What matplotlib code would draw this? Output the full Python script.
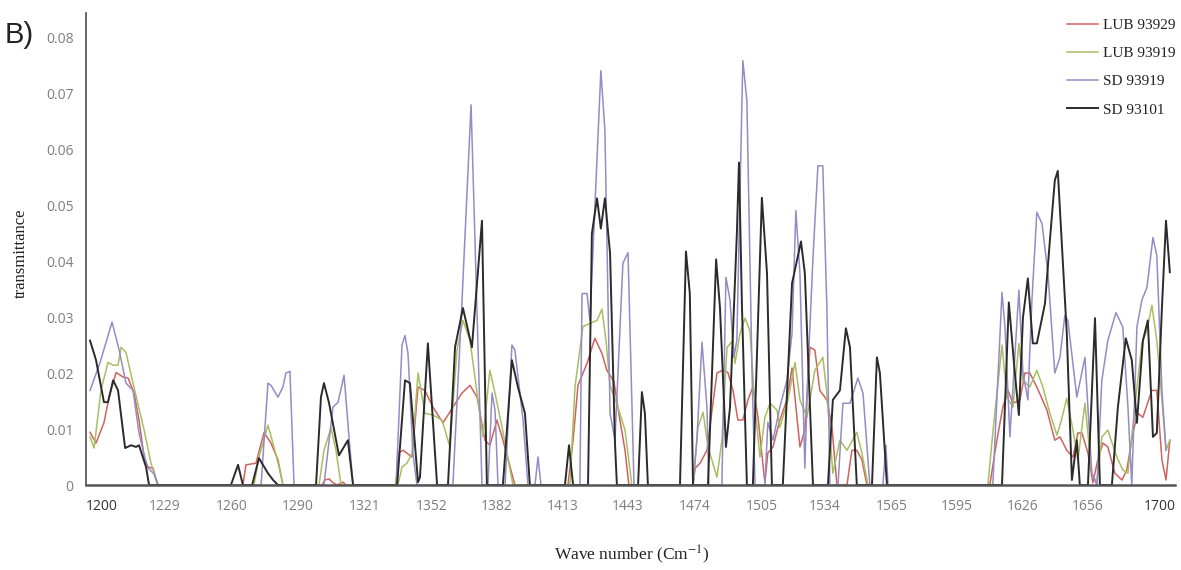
import numpy as np
import matplotlib
matplotlib.use("Agg")
import matplotlib.pyplot as plt

# FTIR transmittance, 1200-1700 cm-1, four genotypes
series_names = ["LUB 93929", "LUB 93919", "SD 93919", "SD 93101"]

lub93929_x = [1200, 1202.8, 1206.5, 1208.9, 1212.2, 1215.4, 1217.8, 1220.6, 1222.9, 1225.3, 1227.1, 1229.5, 1230.9, 1231.8,
              1271.5, 1272.9, 1277.6, 1281.4, 1284.6, 1287.9, 1290.2,
              1308.5, 1309.9, 1311.8, 1313.6, 1315.5, 1318.3, 1319.7,
              1343.1, 1344.0, 1346.4, 1350.6, 1353.4, 1356.6, 1360.4, 1365.1, 1369.7, 1373.9, 1377.7, 1381.0, 1384.7, 1387.0, 1390.3, 1393.1, 1398.7,
              1423.5, 1425.9, 1428.2, 1432.4, 1436.1, 1439.4, 1441.7, 1445.0, 1447.8, 1450.2, 1452.0,
              1482.0, 1483.0, 1485.3, 1488.5, 1490.9, 1493.2, 1496.0, 1498.3, 1500.7, 1503.0, 1505.3, 1507.7, 1510.0, 1512.4, 1515.6, 1517.0, 1519.4,
              1522.6, 1525.9, 1528.3, 1530.6, 1532.0, 1534.3, 1536.7, 1539.0, 1541.3, 1544.6, 1547.0, 1549.3, 1554.0, 1556.3, 1558.6, 1561.0, 1563.3,
              1620.8, 1624.1, 1626.9, 1629.3, 1631.6, 1634.9, 1637.2, 1639.5, 1642.8, 1647.5, 1651.2, 1653.6, 1656.8, 1659.7, 1662.0, 1663.9,
              1666.7, 1669.0, 1671.3, 1673.7, 1676.0, 1679.3, 1682.6, 1684.9, 1687.7, 1690.0, 1692.4, 1696.6, 1698.9, 1701.3, 1703.2, 1705.0]
lub93929_y = [0.0094, 0.0075, 0.0111, 0.0157, 0.0201, 0.0193, 0.0191, 0.0164, 0.0116, 0.0050, 0.0032, 0.0030, 0.0009, 0,
              0, 0.0036, 0.0039, 0.0094, 0.0075, 0.0045, 0,
              0, 0.0009, 0.0011, 0.0004, 0, 0.0005, 0,
              0, 0.0057, 0.0062, 0.0050, 0.0175, 0.0169, 0.0139, 0.0111, 0.0139, 0.0164, 0.0178, 0.0157, 0.0080, 0.0071, 0.0116, 0.0080, 0,
              0, 0.0080, 0.0178, 0.0217, 0.0262, 0.0235, 0.0205, 0.0185, 0.0116, 0.0062, 0,
              0, 0.0030, 0.0039, 0.0062, 0.0134, 0.0200, 0.0205, 0.0201, 0.0169, 0.0116, 0.0116, 0.0152, 0.0175, 0.0121, 0.0004, 0.0057, 0.0068,
              0.0116, 0.0152, 0.0209, 0.0121, 0.0068, 0.0098, 0.0246, 0.0241, 0.0169, 0.0152, 0.0103, 0, 0, 0.0062, 0.0062, 0.0045, 0,
              0, 0.0080, 0.0139, 0.0169, 0.0146, 0.0152, 0.0200, 0.0200, 0.0175, 0.0134, 0.0080, 0.0086, 0.0062, 0.0050, 0.0093, 0.0093,
              0.0057, 0.0004, 0.0045, 0.0075, 0.0068, 0.0021, 0.0009, 0.0027, 0.0093, 0.0128, 0.0121, 0.0169, 0.0169, 0.0045, 0.0009, 0.0080]

lub93919_x = [1200, 1201.9, 1205.1, 1208.4, 1210.8, 1213.1, 1214.5, 1216.8, 1220.1, 1225.3, 1228.5, 1231.8,
              1276.7, 1279.0, 1283.2, 1286.0, 1288.4, 1290.2,
              1307.1, 1309.4, 1312.7, 1315.0, 1317.4,
              1344.0, 1345.9, 1348.2, 1350.6, 1353.4, 1356.6, 1360.4, 1364.6, 1368.3, 1371.6, 1374.4, 1377.7, 1381.0, 1383.8, 1387.0, 1389.4, 1392.7, 1397.8,
              1424.4, 1426.8, 1430.5, 1432.9, 1437.1, 1439.4, 1441.3, 1443.2, 1446.9, 1450.2, 1453.4,
              1482.0, 1484.3, 1486.7, 1489.0, 1493.2, 1495.5, 1497.9, 1500.7, 1501.6, 1504.0, 1506.3, 1508.6, 1511.0, 1513.3, 1515.6, 1518.0,
              1521.2, 1522.6, 1526.4, 1529.7, 1532.0, 1535.3, 1539.0, 1542.7, 1544.6, 1547.4, 1550.7, 1554.0, 1558.6, 1561.0, 1563.8,
              1619.9, 1622.2, 1626.5, 1628.8, 1631.6, 1634.4, 1636.3, 1639.5, 1642.8, 1645.6, 1648.9, 1652.2, 1654.5, 1656.8, 1659.7, 1662.0,
              1665.3, 1668.5, 1670.9, 1673.2, 1676.0, 1680.2, 1683.0, 1685.4, 1688.6, 1691.9, 1694.3, 1696.6, 1698.9, 1701.3, 1703.2, 1705.0]
lub93919_y = [0.0086, 0.0066, 0.0169, 0.0219, 0.0214, 0.0214, 0.0246, 0.0237, 0.0182, 0.0098, 0.0039, 0,
              0, 0.0050, 0.0107, 0.0068, 0.0032, 0,
              0, 0.0062, 0.0102, 0.0062, 0,
              0, 0.0032, 0.0039, 0.0057, 0.0200, 0.0128, 0.0125, 0.0116, 0.0068, 0.0241, 0.0294, 0.0258, 0.0164, 0.0086, 0.0205, 0.0164, 0.0103, 0,
              0, 0.0175, 0.0283, 0.0287, 0.0294, 0.0314, 0.0258, 0.0178, 0.0139, 0.0098, 0,
              0, 0.0103, 0.0130, 0.0068, 0.0014, 0.0080, 0.0246, 0.0258, 0.0217, 0.0271, 0.0298, 0.0276, 0.0139, 0.0050, 0.0121, 0.0146,
              0.0134, 0.0103, 0.0152, 0.0219, 0.0152, 0.0121, 0.0205, 0.0228, 0.0164, 0.0021, 0.0080, 0.0062, 0.0094, 0.0057, 0,
              0, 0.0093, 0.0250, 0.0157, 0.0139, 0.0253, 0.0187, 0.0175, 0.0205, 0.0175, 0.0128, 0.0089, 0.0119, 0.0155, 0.0098, 0.0045,
              0.0146, 0.0021, 0.0004, 0.0086, 0.0098, 0.0050, 0.0027, 0.0021, 0.0139, 0.0253, 0.0276, 0.0321, 0.0258, 0.0152, 0.0062, 0.0080]

sd93919_x = [1200, 1204.7, 1210.3, 1213.6, 1216.8, 1220.1, 1222.9, 1226.7, 1229.9, 1231.8,
             1280.0, 1283.2, 1284.6, 1287.9, 1290.2, 1291.6, 1293.5, 1295.4,
             1309.4, 1313.6, 1316.0, 1318.8, 1321.1, 1323.0,
             1343.1, 1345.9, 1347.3, 1348.7, 1351.0, 1352.9, 1369.7, 1373.9, 1378.2, 1381.0, 1383.3, 1386.1, 1388.0, 1389.4, 1390.8, 1394.1,
             1397.3, 1398.7, 1402.5, 1404.8, 1408.1, 1409.5, 1410.9,
             1429.1, 1430.1, 1432.4, 1433.8, 1438.9, 1440.8, 1443.2, 1445.5, 1449.2, 1451.6, 1454.4,
             1482.0, 1483.8, 1486.2, 1488.5, 1489.4, 1495.5, 1497.4, 1499.3, 1501.1, 1502.5, 1505.3, 1507.2, 1509.6, 1511.0, 1515.6, 1517.0,
             1519.4, 1522.6, 1525.9, 1528.3, 1530.1, 1532.0, 1534.3, 1535.7, 1538.1, 1540.4, 1542.7, 1544.6, 1546.0, 1549.8, 1552.1, 1555.4,
             1559.1, 1561.5, 1564.7, 1570.8, 1572.2, 1573.2,
             1622.2, 1626.5, 1627.9, 1630.2, 1632.5, 1634.4, 1636.3, 1638.6, 1640.5, 1642.8, 1645.2, 1648.0, 1651.2, 1653.6, 1655.9, 1657.3,
             1661.5, 1665.3, 1668.5, 1670.9, 1673.2, 1676.0, 1679.8, 1683.0, 1685.4, 1687.2, 1689.6, 1691.9, 1694.3, 1697.1, 1698.9, 1701.3, 1703.2]
sd93919_y = [0.0169, 0.0219, 0.0291, 0.0241, 0.0182, 0.0169, 0.0093, 0.0032, 0.0020, 0,
             0, 0.0182, 0.0178, 0.0157, 0.0175, 0.0200, 0.0203, 0,
             0, 0.0139, 0.0148, 0.0196, 0.0086, 0,
             0, 0.0250, 0.0267, 0.0235, 0.0057, 0, 0, 0.0324, 0.0679, 0.0307, 0, 0, 0.0164, 0.0134, 0, 0,
             0.0250, 0.0241, 0.0116, 0, 0, 0.0050, 0,
             0, 0.0342, 0.0342, 0.0294, 0.0740, 0.0633, 0.0128, 0.0080, 0.0396, 0.0415, 0,
             0, 0.0080, 0.0255, 0.0139, 0, 0, 0.0371, 0.0330, 0.0228, 0.0258, 0.0758, 0.0686, 0.0200, 0, 0, 0.0112,
             0.0080, 0.0139, 0.0187, 0.0271, 0.0490, 0.0378, 0.0030, 0.0200, 0.0406, 0.0570, 0.0570, 0.0317, 0, 0, 0.0146, 0.0146,
             0.0191, 0.0164, 0, 0, 0.0071, 0,
             0, 0.0344, 0.0282, 0.0086, 0.0228, 0.0348, 0.0200, 0.0152, 0.0330, 0.0487, 0.0467, 0.0378, 0.0200, 0.0228, 0.0303, 0.0294,
             0.0157, 0.0228, 0.0021, 0, 0.0187, 0.0258, 0.0308, 0.0282, 0.0139, 0, 0.0282, 0.0330, 0.0353, 0.0442, 0.0410, 0.0169, 0.0062]

sd93101_x = [1200, 1202.8, 1206.5, 1208.4, 1210.8, 1213.1, 1216.4, 1219.2, 1221.5, 1222.9, 1226.2, 1227.6,
             1265.9, 1269.2, 1271.5, 1275.8, 1279.0, 1283.2, 1285.6, 1287.9,
             1305.7, 1308.0, 1309.4, 1311.8, 1316.4, 1320.6, 1323.0,
             1343.6, 1347.3, 1349.6, 1353.4, 1354.3, 1358.0, 1362.3, 1367.4, 1370.7, 1374.4, 1378.6, 1383.3, 1385.6, 1393.1, 1397.3, 1400.1, 1403.4, 1405.7,
             1422.1, 1424.0, 1425.9, 1432.9, 1434.7, 1437.1, 1438.9, 1440.8, 1443.2, 1445.5, 1446.4, 1456.3, 1458.1, 1459.5, 1460.9,
             1475.9, 1478.7, 1480.5, 1482.0, 1489.0, 1492.8, 1494.6, 1497.4, 1499.3, 1502.5, 1503.5, 1504.9, 1507.2, 1510.0, 1514.2, 1516.6,
             1518.9, 1524.0, 1528.3, 1532.5, 1534.3, 1538.1, 1545.1, 1547.4, 1550.7, 1553.5, 1555.4, 1558.6, 1565.7, 1568.0, 1569.4, 1572.7,
             1626.5, 1629.7, 1632.5, 1634.4, 1636.3, 1638.6, 1640.9, 1642.8, 1646.6, 1648.9, 1651.2, 1652.6, 1656.8, 1659.2, 1661.5, 1662.9,
             1666.7, 1670.0, 1672.3, 1677.9, 1680.7, 1684.4, 1687.2, 1689.6, 1692.4, 1694.7, 1697.1, 1698.9, 1701.3, 1703.2, 1705.0]
sd93101_y = [0.0258, 0.0223, 0.0148, 0.0148, 0.0187, 0.0169, 0.0066, 0.0071, 0.0068, 0.0071, 0.0032, 0,
             0, 0.0036, 0, 0, 0.0048, 0.0021, 0.0009, 0,
             0, 0.0157, 0.0182, 0.0146, 0.0053, 0.0080, 0,
             0, 0.0187, 0.0182, 0.0005, 0.0014, 0.0253, 0, 0, 0.0246, 0.0316, 0.0246, 0.0472, 0, 0, 0.0223, 0.0175, 0.0128, 0,
             0, 0.0071, 0, 0, 0.0449, 0.0512, 0.0458, 0.0512, 0.0414, 0.0075, 0, 0, 0.0166, 0.0128, 0,
             0, 0.0417, 0.0342, 0, 0, 0.0403, 0.0317, 0.0068, 0.0139, 0.0449, 0.0576, 0.0317, 0, 0, 0.0513, 0.0378,
             0, 0, 0.0360, 0.0435, 0.0378, 0, 0, 0.0152, 0.0169, 0.0280, 0.0246, 0, 0, 0.0228, 0.0200, 0,
             0, 0.0326, 0.0200, 0.0125, 0.0299, 0.0369, 0.0253, 0.0253, 0.0324, 0.0437, 0.0544, 0.0561, 0.0271, 0.0009, 0.0080, 0,
             0, 0.0298, 0, 0, 0.0139, 0.0262, 0.0223, 0.0111, 0.0258, 0.0294, 0.0086, 0.0093, 0.0317, 0.0472, 0.0380]

# category-axis labels as printed under the chart
x_tick_labels = ["1200", "1229", "1260", "1290", "1321", "1352", "1382", "1413", "1443",
                 "1474", "1505", "1534", "1565", "1595", "1626", "1656", "1700"]
y_ticks = [0, 0.01, 0.02, 0.03, 0.04, 0.05, 0.06, 0.07, 0.08]

# where the labels sit along the (uneven) category axis
x_tick_pos = [1205.6, 1235.1, 1266.4, 1297.3, 1328.6, 1359.9, 1390.3, 1421.2, 1451.6,
              1482.9, 1514.2, 1543.7, 1575.0, 1605.4, 1636.3, 1666.7, 1700.3]

colors = ["#d0625f", "#a6c061", "#958bc6", "#2b2b2b"]

plt.rcParams["mathtext.fontset"] = "stix"

fig = plt.figure(figsize=(11.81, 5.70), dpi=100)
ax = fig.add_axes([0.0728, 0.1491, 0.9221, 0.8281])

xs = [lub93929_x, lub93919_x, sd93919_x, sd93101_x]
ys = [lub93929_y, lub93919_y, sd93919_y, sd93101_y]
for x, y, c, name in zip(xs, ys, colors, series_names):
    lw = 1.4 if name == "SD 93101" else 1.1
    ax.plot(x, y, color=c, lw=lw, label=name)

ax.set_xlim(1198.1, 1707.4)
ax.set_ylim(0, 0.0843)

for side in ["top", "right"]:
    ax.spines[side].set_visible(False)
ax.spines["left"].set_color("#4d4d4d")
ax.spines["left"].set_linewidth(1.2)
ax.spines["bottom"].set_color("#555555")
ax.spines["bottom"].set_linewidth(1.8)
ax.spines["bottom"].set_zorder(5)

ax.set_yticks(y_ticks)
ax.set_yticklabels(["0" if v == 0 else f"{v:.2f}" for v in y_ticks])
ax.set_xticks(x_tick_pos)
ax.set_xticklabels(x_tick_labels)
ax.tick_params(axis="both", length=0, labelsize=10, labelcolor="#7f7f7f")
ax.tick_params(axis="y", pad=9)
ax.tick_params(axis="x", pad=10)
for t in ax.get_xticklabels():
    t.set_family("Open Sans")
    if t.get_text() in ("1200", "1700"):
        t.set_color("#333333")
for t in ax.get_yticklabels():
    t.set_family("Open Sans")

ax.set_ylabel("transmittance", family="Liberation Serif", fontsize=12, color="#222222")
ax.yaxis.set_label_coords(-0.052, 0.49)
fig.text(0.535, 0.026, "Wave number (Cm$^{-1}$)", family="Liberation Serif", fontsize=12.5,
         ha="center", va="center", color="#222222")
fig.text(0.004, 0.938, "B)", family="Liberation Sans", fontsize=21, ha="left", va="center", color="#222222")

leg = ax.legend(loc="upper right", bbox_to_anchor=(0.995, 0.968), bbox_transform=fig.transFigure,
                frameon=False, handlelength=2.0, handletextpad=0.3, labelspacing=0.95,
                borderpad=0, borderaxespad=0,
                prop={"family": "Liberation Serif", "size": 11})
for txt in leg.get_texts():
    txt.set_color("#222222")

fig.savefig("out.png", dpi=100)
